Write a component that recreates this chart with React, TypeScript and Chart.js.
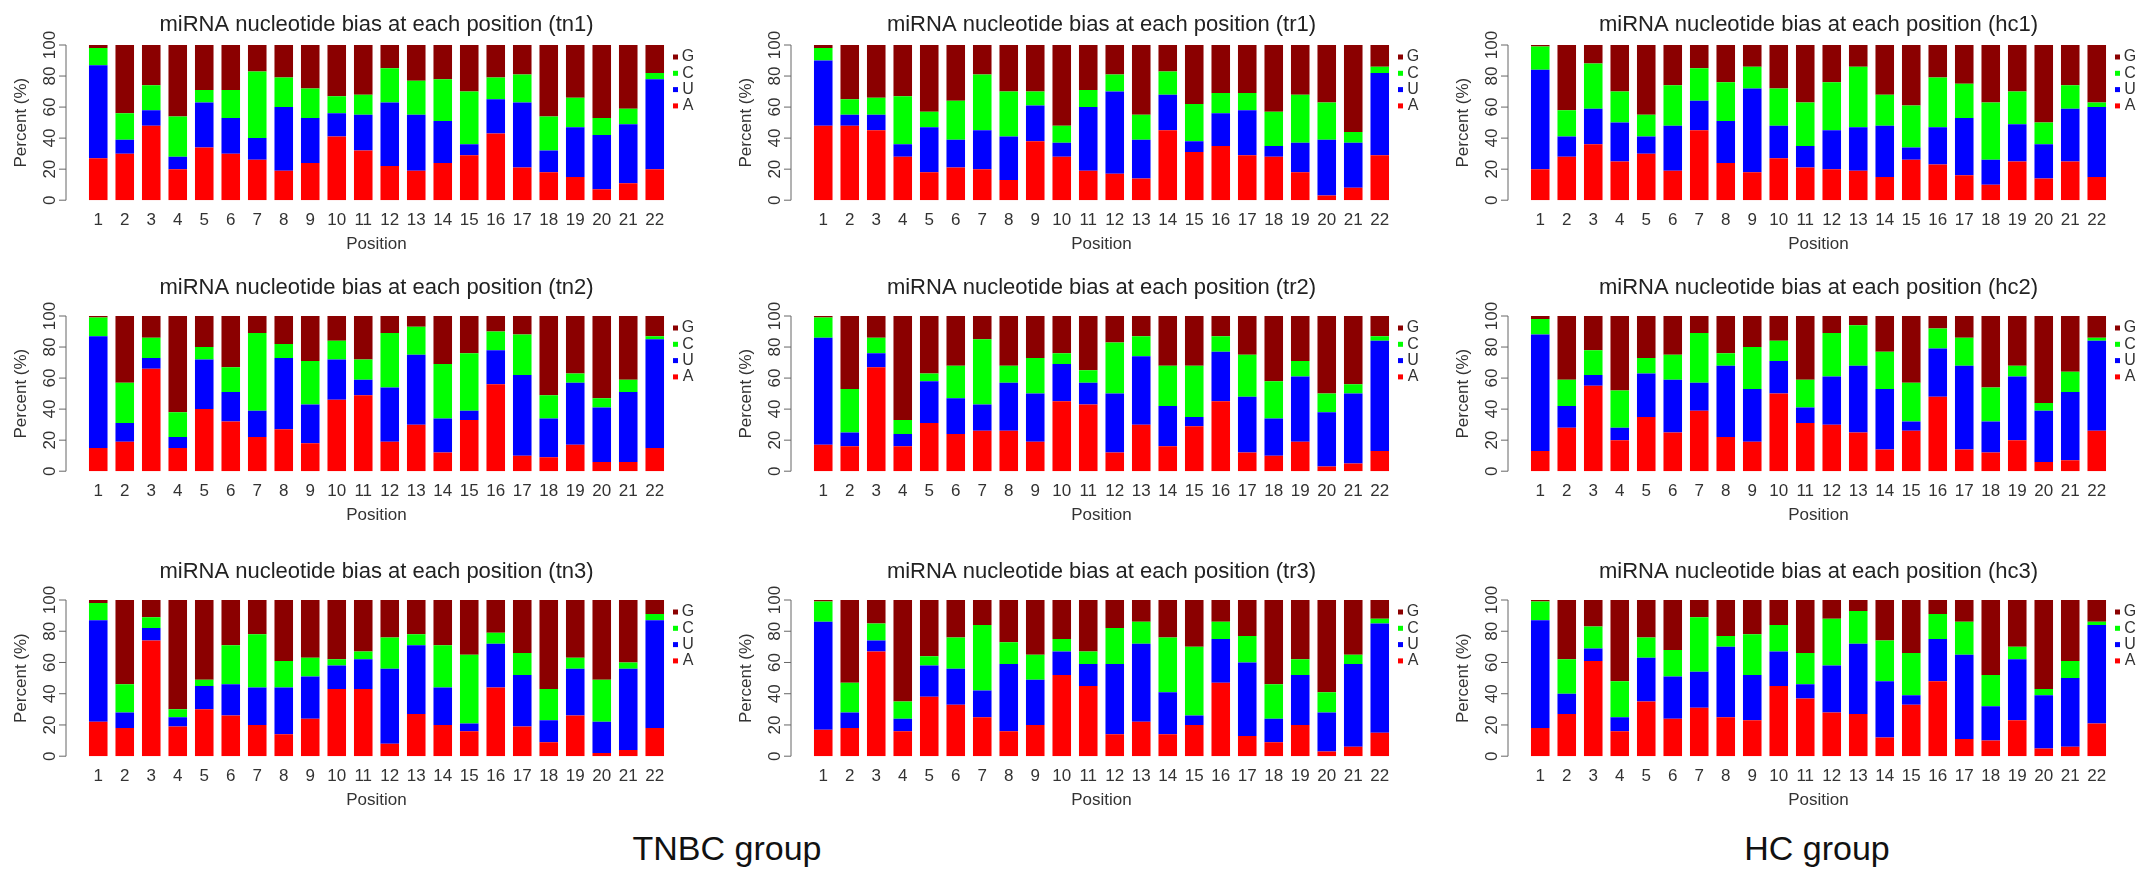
import React, { useEffect, useRef } from "react";
import { Chart, registerables } from "chart.js";

Chart.register(...registerables);

const FONT = "'Liberation Sans', Arial, sans-serif";

const positions = ["1", "2", "3", "4", "5", "6", "7", "8", "9", "10", "11", "12", "13", "14", "15", "16", "17", "18", "19", "20", "21", "22"];
const yTicks = [0, 20, 40, 60, 80, 100];
const nucleotides = ["A", "U", "C", "G"];
const nucleotideColors = ["#ff0000", "#0000ff", "#00ff00", "#8b0000"];

// percent of each nucleotide per position
const tn1A = [27, 30, 48, 20, 34, 30, 26, 19, 24, 41, 32, 22, 19, 24, 29, 43, 21, 18, 15, 7, 11, 20];
const tn1U = [60, 9, 10, 8, 29, 23, 14, 41, 29, 15, 23, 41, 36, 27, 7, 22, 42, 14, 32, 35, 38, 58];
const tn1C = [11, 17, 16, 26, 8, 18, 43, 19, 19, 11, 13, 22, 22, 27, 34, 14, 18, 22, 19, 11, 10, 4];
const tn1G = [2, 44, 26, 46, 29, 29, 17, 21, 28, 33, 32, 15, 23, 22, 30, 21, 19, 46, 34, 47, 41, 18];

const tr1A = [48, 48, 45, 28, 18, 21, 20, 13, 38, 28, 19, 17, 14, 45, 31, 35, 29, 28, 18, 3, 8, 29];
const tr1U = [42, 7, 10, 8, 29, 18, 25, 28, 23, 9, 41, 53, 25, 23, 7, 21, 29, 7, 19, 36, 29, 53];
const tr1C = [8, 10, 11, 31, 10, 25, 36, 29, 9, 11, 11, 11, 16, 15, 24, 13, 11, 22, 31, 24, 7, 4];
const tr1G = [2, 35, 34, 33, 43, 36, 19, 30, 30, 52, 29, 19, 45, 17, 38, 31, 31, 43, 32, 37, 56, 14];

const hc1A = [20, 28, 36, 25, 30, 19, 45, 24, 18, 27, 21, 20, 19, 15, 26, 23, 16, 10, 25, 14, 25, 15];
const hc1U = [64, 13, 23, 25, 11, 29, 19, 27, 54, 21, 14, 25, 28, 33, 8, 24, 37, 16, 24, 22, 34, 45];
const hc1C = [15, 17, 29, 20, 14, 26, 21, 25, 14, 24, 28, 31, 39, 20, 27, 32, 22, 37, 21, 14, 15, 3];
const hc1G = [1, 42, 12, 30, 45, 26, 15, 24, 14, 28, 37, 24, 14, 32, 39, 21, 25, 37, 30, 50, 26, 37];

const tn2A = [15, 19, 66, 15, 40, 32, 22, 27, 18, 46, 49, 19, 30, 12, 33, 56, 10, 9, 17, 6, 6, 15];
const tn2U = [72, 12, 7, 7, 32, 19, 17, 46, 25, 26, 10, 35, 45, 22, 6, 22, 52, 25, 40, 35, 45, 70];
const tn2C = [12, 26, 13, 16, 8, 16, 50, 9, 28, 12, 13, 35, 18, 35, 37, 12, 26, 15, 6, 6, 8, 2];
const tn2G = [1, 43, 14, 62, 20, 33, 11, 18, 29, 16, 28, 11, 7, 31, 24, 10, 12, 51, 37, 53, 41, 13];

const tr2A = [17, 16, 67, 16, 31, 24, 26, 26, 19, 45, 43, 12, 30, 16, 29, 45, 12, 10, 19, 3, 5, 13];
const tr2U = [69, 9, 9, 8, 27, 23, 17, 31, 31, 24, 14, 38, 44, 26, 6, 32, 36, 24, 42, 35, 45, 71];
const tr2C = [13, 28, 10, 9, 5, 21, 42, 11, 23, 7, 8, 33, 13, 26, 33, 10, 27, 24, 10, 12, 6, 3];
const tr2G = [1, 47, 14, 67, 37, 32, 15, 32, 27, 24, 35, 17, 13, 32, 32, 13, 25, 42, 29, 50, 44, 13];

const hc2A = [13, 28, 55, 20, 35, 25, 39, 22, 19, 50, 31, 30, 25, 14, 26, 48, 14, 12, 20, 6, 7, 26];
const hc2U = [75, 14, 7, 8, 28, 34, 18, 46, 34, 21, 10, 31, 43, 39, 6, 31, 54, 20, 41, 33, 44, 58];
const hc2C = [10, 17, 16, 24, 10, 16, 32, 8, 27, 13, 18, 28, 26, 24, 25, 13, 18, 22, 7, 5, 13, 2];
const hc2G = [2, 41, 22, 48, 27, 25, 11, 24, 20, 16, 41, 11, 6, 23, 43, 8, 14, 46, 32, 56, 36, 14];

const tn3A = [22, 18, 74, 19, 30, 26, 20, 14, 24, 43, 43, 8, 27, 20, 16, 44, 19, 9, 26, 2, 4, 18];
const tn3U = [65, 10, 8, 6, 15, 20, 24, 30, 27, 15, 19, 48, 44, 24, 5, 28, 33, 14, 30, 20, 52, 69];
const tn3C = [11, 18, 7, 5, 4, 25, 34, 17, 12, 4, 5, 20, 7, 27, 44, 7, 14, 20, 7, 27, 4, 4];
const tn3G = [2, 54, 11, 70, 51, 29, 22, 39, 37, 38, 33, 24, 22, 29, 35, 21, 34, 57, 37, 51, 40, 9];

const tr3A = [17, 18, 67, 16, 38, 33, 25, 16, 20, 52, 45, 14, 22, 14, 20, 47, 13, 9, 20, 3, 6, 15];
const tr3U = [69, 10, 7, 8, 20, 23, 17, 43, 29, 15, 14, 45, 50, 27, 6, 28, 47, 15, 32, 25, 53, 70];
const tr3C = [13, 19, 11, 11, 6, 20, 42, 14, 16, 8, 8, 23, 14, 35, 44, 11, 17, 22, 10, 13, 6, 3];
const tr3G = [1, 53, 15, 65, 36, 24, 16, 27, 35, 25, 33, 18, 14, 24, 30, 14, 23, 54, 38, 59, 35, 12];

const hc3A = [18, 27, 61, 16, 35, 24, 31, 25, 23, 45, 37, 28, 27, 12, 33, 48, 11, 10, 23, 5, 6, 21];
const hc3U = [69, 13, 8, 9, 28, 27, 23, 45, 29, 22, 9, 30, 45, 36, 6, 27, 54, 22, 39, 34, 44, 63];
const hc3C = [12, 22, 14, 23, 13, 17, 35, 7, 26, 17, 20, 30, 21, 26, 27, 16, 21, 20, 8, 4, 11, 2];
const hc3G = [1, 38, 17, 52, 24, 32, 11, 23, 22, 16, 34, 12, 7, 26, 34, 9, 14, 48, 30, 57, 39, 14];

// page layout (px)
const colLefts = [0, 725, 1442];
const rows = [
  { titleY: 25, top100: 45, bottom0: 200 },
  { titleY: 288, top100: 316, bottom0: 471 },
  { titleY: 572, top100: 600, bottom0: 756 },
];

const panels = [
  { name: "tn1", col: 0, row: 0, values: [tn1A, tn1U, tn1C, tn1G] },
  { name: "tr1", col: 1, row: 0, values: [tr1A, tr1U, tr1C, tr1G] },
  { name: "hc1", col: 2, row: 0, values: [hc1A, hc1U, hc1C, hc1G] },
  { name: "tn2", col: 0, row: 1, values: [tn2A, tn2U, tn2C, tn2G] },
  { name: "tr2", col: 1, row: 1, values: [tr2A, tr2U, tr2C, tr2G] },
  { name: "hc2", col: 2, row: 1, values: [hc2A, hc2U, hc2C, hc2G] },
  { name: "tn3", col: 0, row: 2, values: [tn3A, tn3U, tn3C, tn3G] },
  { name: "tr3", col: 1, row: 2, values: [tr3A, tr3U, tr3C, tr3G] },
  { name: "hc3", col: 2, row: 2, values: [hc3A, hc3U, hc3C, hc3G] },
];

const PANEL_W = 698;

// R-style y axis (rotated labels, detached axis line) and side legend
const rStylePlugin = {
  id: "rStyle",
  afterDraw(chart: any) {
    const { ctx, chartArea, scales } = chart;
    const y = scales.y;
    const ax = chartArea.left - 19;
    ctx.save();
    ctx.strokeStyle = "#666";
    ctx.lineWidth = 1;
    ctx.beginPath();
    ctx.moveTo(ax, y.getPixelForValue(0));
    ctx.lineTo(ax, y.getPixelForValue(100));
    yTicks.forEach((v) => {
      const py = y.getPixelForValue(v);
      ctx.moveTo(ax, py);
      ctx.lineTo(ax - 7, py);
    });
    ctx.stroke();

    ctx.fillStyle = "#333";
    ctx.font = `17px ${FONT}`;
    ctx.textAlign = "center";
    ctx.textBaseline = "middle";
    yTicks.forEach((v) => {
      ctx.save();
      ctx.translate(ax - 16, y.getPixelForValue(v));
      ctx.rotate(-Math.PI / 2);
      ctx.fillText(String(v), 0, 0);
      ctx.restore();
    });
    ctx.save();
    ctx.translate(chartArea.left - 64, (y.getPixelForValue(0) + y.getPixelForValue(100)) / 2);
    ctx.rotate(-Math.PI / 2);
    ctx.fillText("Percent (%)", 0, 0);
    ctx.restore();

    // legend: G, C, U, A from top
    const ds = chart.data.datasets.slice().reverse();
    ctx.font = `16px ${FONT}`;
    ds.forEach((d: any, i: number) => {
      const ly = chartArea.top + 12 + i * 16.3;
      ctx.fillStyle = d.backgroundColor;
      ctx.fillRect(chartArea.right + 5, ly - 2.5, 5, 5);
      ctx.fillStyle = "#333";
      ctx.fillText(d.label, chartArea.right + 20, ly);
    });
    ctx.restore();
  },
};

const Panel = ({ panel }: any) => {
  const canvasRef = useRef<HTMLCanvasElement>(null);
  const row = rows[panel.row];
  const top = row.titleY - 18;
  const height = Math.round(row.bottom0 + 54.8 - top);

  useEffect(() => {
    if (!canvasRef.current) return;
    const chart = new Chart(canvasRef.current, {
      type: "bar",
      data: {
        labels: positions,
        datasets: nucleotides.map((n, i) => ({
          label: n,
          data: panel.values[i],
          backgroundColor: nucleotideColors[i],
          borderWidth: 0,
          barPercentage: 0.7,
          categoryPercentage: 1,
        })),
      },
      options: {
        animation: false,
        responsive: false,
        devicePixelRatio: 1,
        layout: { padding: { left: 85, right: 30, top: 0, bottom: 0 } },
        plugins: {
          legend: { display: false },
          tooltip: { enabled: false },
          title: {
            display: true,
            fullSize: false,
            text: `miRNA nucleotide bias at each position (${panel.name})`,
            color: "#222",
            font: { family: FONT, size: 22, weight: "normal" },
            padding: { top: 5, bottom: row.top100 - top - 31.4 },
          },
        },
        scales: {
          x: {
            stacked: true,
            grid: { display: false, drawTicks: false },
            border: { display: false },
            ticks: {
              color: "#333",
              font: { family: FONT, size: 17 },
              padding: 10,
              autoSkip: false,
              maxRotation: 0,
            },
            title: {
              display: true,
              text: "Position",
              color: "#333",
              font: { family: FONT, size: 17 },
              padding: { top: -6, bottom: 0 },
            },
          },
          y: { stacked: true, min: 0, max: 100, display: false },
        },
      },
      plugins: [rStylePlugin],
    } as any);
    return () => chart.destroy();
  }, [panel]);

  return (
    <canvas
      ref={canvasRef}
      width={PANEL_W}
      height={height}
      style={{ position: "absolute", left: colLefts[panel.col], top, width: PANEL_W, height }}
    />
  );
};

const groupLabel = (text: string, cx: number) => (
  <div
    style={{
      position: "absolute",
      left: cx - 200,
      top: 828,
      width: 400,
      textAlign: "center",
      fontFamily: FONT,
      fontSize: 34,
      lineHeight: "40px",
      color: "#111",
    }}
  >
    {text}
  </div>
);

export default function App() {
  return (
    <div style={{ position: "absolute", left: 0, top: 0, width: 2150, height: 878, background: "#fff", overflow: "hidden" }}>
      {panels.map((p) => (
        <Panel key={p.name} panel={p} />
      ))}
      {groupLabel("TNBC group", 727)}
      {groupLabel("HC group", 1817)}
    </div>
  );
}
